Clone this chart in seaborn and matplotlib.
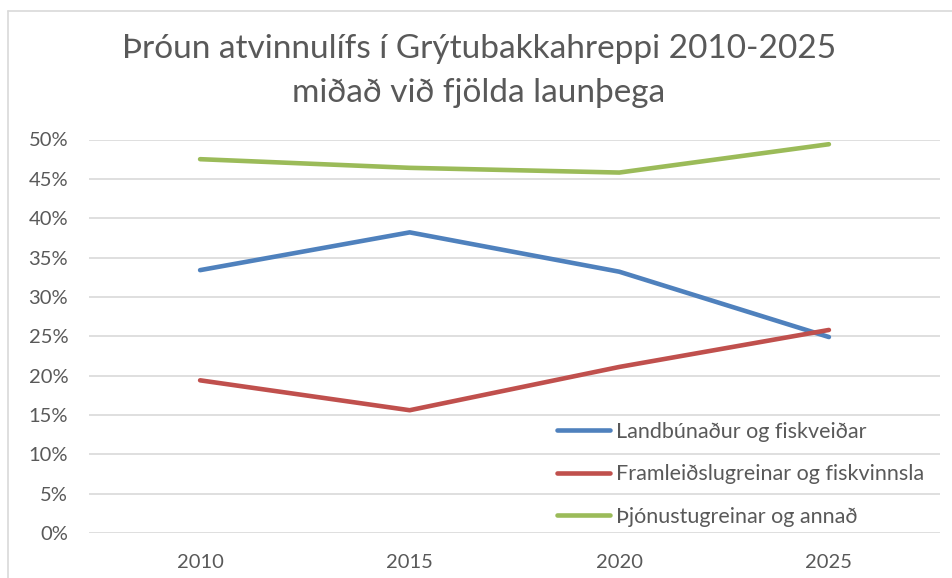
import pandas as pd
import matplotlib.pyplot as plt
import seaborn as sns
from matplotlib.ticker import PercentFormatter

years = ['2010', '2015', '2020', '2025']
landbunadur = [33.4, 38.2, 33.2, 24.9]
framleidsla = [19.4, 15.6, 21.1, 25.8]
thjonusta = [47.5, 46.4, 45.8, 49.4]
series_names = ['Landbúnaður og fiskveiðar', 'Framleiðslugreinar og fiskvinnsla', 'Þjónustugreinar og annað']
colors = ['#4F81BD', '#C0504D', '#9BBB59']

df = pd.DataFrame({
    'Ár': years * 3,
    'Hlutfall': landbunadur + framleidsla + thjonusta,
    'Grein': [n for n in series_names for _ in years],
})

sns.set_style('white')
plt.rcParams['font.family'] = ['Lato', 'DejaVu Sans']

fig = plt.figure(figsize=(9.52, 5.78), dpi=100)
ax = fig.add_axes([89 / 952, 1 - 533 / 578, (940 - 89) / 952, (533 - 139.5) / 578])

sns.lineplot(data=df, x='Ár', y='Hlutfall', hue='Grein', palette=colors, sort=False,
             linewidth=3.3, solid_capstyle='round', ax=ax)

ax.set_ylim(0, 50)
ax.set_xlim(-0.53, 3.53)
ax.set_yticks(range(0, 51, 5))
ax.yaxis.set_major_formatter(PercentFormatter(decimals=0))
ax.grid(axis='y', color='#D9D9D9', linewidth=1.2)
ax.set_axisbelow(True)
for s in ax.spines.values():
    s.set_visible(False)
ax.tick_params(axis='y', length=0, pad=15, labelsize=14.5, labelcolor='#595959')
ax.tick_params(axis='x', length=0, pad=15, labelsize=14.5, labelcolor='#595959')
ax.set_xlabel('')
ax.set_ylabel('')

leg = ax.legend(loc='upper left', bbox_to_anchor=(548 / 952, 1 - 413 / 578),
                bbox_transform=fig.transFigure, frameon=False, fontsize=15.5,
                handlelength=2.5, handletextpad=0.25, labelspacing=1.05, borderaxespad=0)
for t in leg.get_texts():
    t.set_color('#595959')
for h in leg.get_lines():
    h.set_linewidth(3.3)
    h.set_solid_capstyle('round')

fig.text(0.503, 1 - 71 / 578, 'Þróun atvinnulífs í Grýtubakkahreppi 2010-2025\nmiðað við fjölda launþega',
         ha='center', va='center', fontsize=24, color='#595959', linespacing=1.55)

# chart border (cropped at right and bottom)
fig.add_artist(plt.Line2D([8 / 952, 8 / 952], [0, 1 - 11 / 578], transform=fig.transFigure, color='#D9D9D9', lw=1.2))
fig.add_artist(plt.Line2D([8 / 952, 1], [1 - 11 / 578, 1 - 11 / 578], transform=fig.transFigure, color='#D9D9D9', lw=1.2))

fig.savefig('out.png', dpi=100)
